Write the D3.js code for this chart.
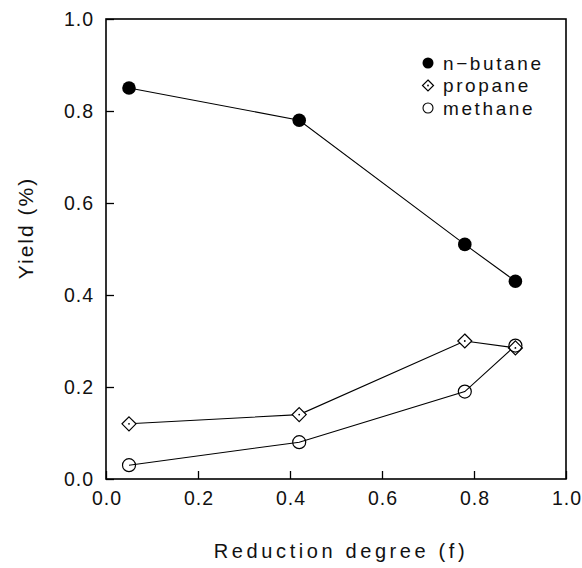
<!DOCTYPE html>
<html>
<head>
<meta charset="utf-8">
<script src="https://cdn.jsdelivr.net/npm/d3@7"></script>
<style>
  body { margin: 0; background: #fff; }
  svg { display: block; font-family: "Liberation Sans", Arial, sans-serif; }
</style>
</head>
<body>
<div id="chart"></div>
<script>
// values
var reduction = [0.05, 0.42, 0.78, 0.89]
var butane = [0.85, 0.78, 0.51, 0.43]
var propane = [0.12, 0.14, 0.30, 0.285]
var methane = [0.03, 0.08, 0.19, 0.29]
var tick_values = [0.0, 0.2, 0.4, 0.6, 0.8, 1.0]
var series_names = ["n\u2212butane", "propane", "methane"]

var W = 582, H = 568
var margin = { top: 19, left: 106, right: 16, bottom: 89 }

var svg = d3.select("#chart").append("svg")
    .attr("width", W)
    .attr("height", H)

var x = d3.scaleLinear().domain([0, 1]).range([margin.left, W - margin.right])
var y = d3.scaleLinear().domain([0, 1]).range([H - margin.bottom, margin.top])

// axes with inward ticks
var xAxis = svg.append("g")
    .attr("transform", "translate(0," + y(0) + ")")
    .call(d3.axisBottom(x).tickValues(tick_values).tickFormat(d3.format(".1f")).tickSize(-8).tickPadding(12))
var yAxis = svg.append("g")
    .attr("transform", "translate(" + x(0) + ",0)")
    .call(d3.axisLeft(y).tickValues(tick_values).tickFormat(d3.format(".1f")).tickSize(-8).tickPadding(12))

;[xAxis, yAxis].forEach(g => {
    g.select(".domain").remove()
    g.selectAll("line").attr("stroke", "#000").attr("stroke-width", 1.3)
    g.selectAll("text")
        .attr("fill", "#111")
        .style("font-size", "19.5px")
        .style("letter-spacing", "1px")
})
xAxis.selectAll("text").attr("dx", "0.5px")

// frame
svg.append("rect")
    .attr("x", x(0)).attr("y", y(1))
    .attr("width", x(1) - x(0)).attr("height", y(0) - y(1))
    .attr("fill", "none").attr("stroke", "#000").attr("stroke-width", 1.6)

// axis titles
svg.append("text")
    .attr("x", 341).attr("y", 558)
    .attr("text-anchor", "middle")
    .attr("fill", "#111")
    .style("font-size", "20px")
    .style("letter-spacing", "3.6px")
    .text("Reduction degree (f)")

svg.append("text")
    .attr("transform", "translate(33,228) rotate(-90)")
    .attr("text-anchor", "middle")
    .attr("fill", "#111")
    .style("font-size", "21px")
    .style("letter-spacing", "2px")
    .text("Yield (%)")

var line = d3.line().x((d, i) => x(reduction[i])).y(d => y(d))

function diamond(g, cx, cy, r) {
    g.append("path")
        .attr("d", `M${cx},${cy - r}L${cx + r},${cy}L${cx},${cy + r}L${cx - r},${cy}Z`)
        .attr("fill", "#fff").attr("stroke", "#000").attr("stroke-width", 1.2)
    g.append("circle").attr("cx", cx).attr("cy", cy).attr("r", 0.9).attr("fill", "#000")
}

var series = [
    { name: series_names[0], values: butane, kind: "filled" },
    { name: series_names[1], values: propane, kind: "diamond" },
    { name: series_names[2], values: methane, kind: "open" }
]

series.forEach(s => {
    svg.append("path")
        .attr("d", line(s.values))
        .attr("fill", "none").attr("stroke", "#000").attr("stroke-width", 1.1)
})

// markers drawn after all lines
series.forEach(s => {
    var g = svg.append("g")
    s.values.forEach((v, i) => {
        var cx = x(reduction[i]), cy = y(v)
        if (s.kind == "filled") {
            g.append("circle").attr("cx", cx).attr("cy", cy).attr("r", 6.8).attr("fill", "#000")
        } else if (s.kind == "open") {
            g.append("circle").attr("cx", cx).attr("cy", cy).attr("r", 6.5)
                .attr("fill", "none").attr("stroke", "#000").attr("stroke-width", 1.2)
        } else {
            diamond(g, cx, cy, 7)
        }
    })
})

// legend
var legend = svg.append("g")
series.forEach((s, i) => {
    var cy = 63 + i * 22.5, cx = 428
    if (s.kind == "filled") {
        legend.append("circle").attr("cx", cx).attr("cy", cy).attr("r", 5.5).attr("fill", "#000")
    } else if (s.kind == "open") {
        legend.append("circle").attr("cx", cx).attr("cy", cy).attr("r", 5)
            .attr("fill", "none").attr("stroke", "#000").attr("stroke-width", 1.1)
    } else {
        diamond(legend, cx, cy, 5.5)
    }
    legend.append("text")
        .attr("x", 443).attr("y", cy + 6.5)
        .attr("fill", "#111")
        .style("font-size", "19px")
        .style("letter-spacing", "2.6px")
        .text(s.name)
})
</script>
</body>
</html>
